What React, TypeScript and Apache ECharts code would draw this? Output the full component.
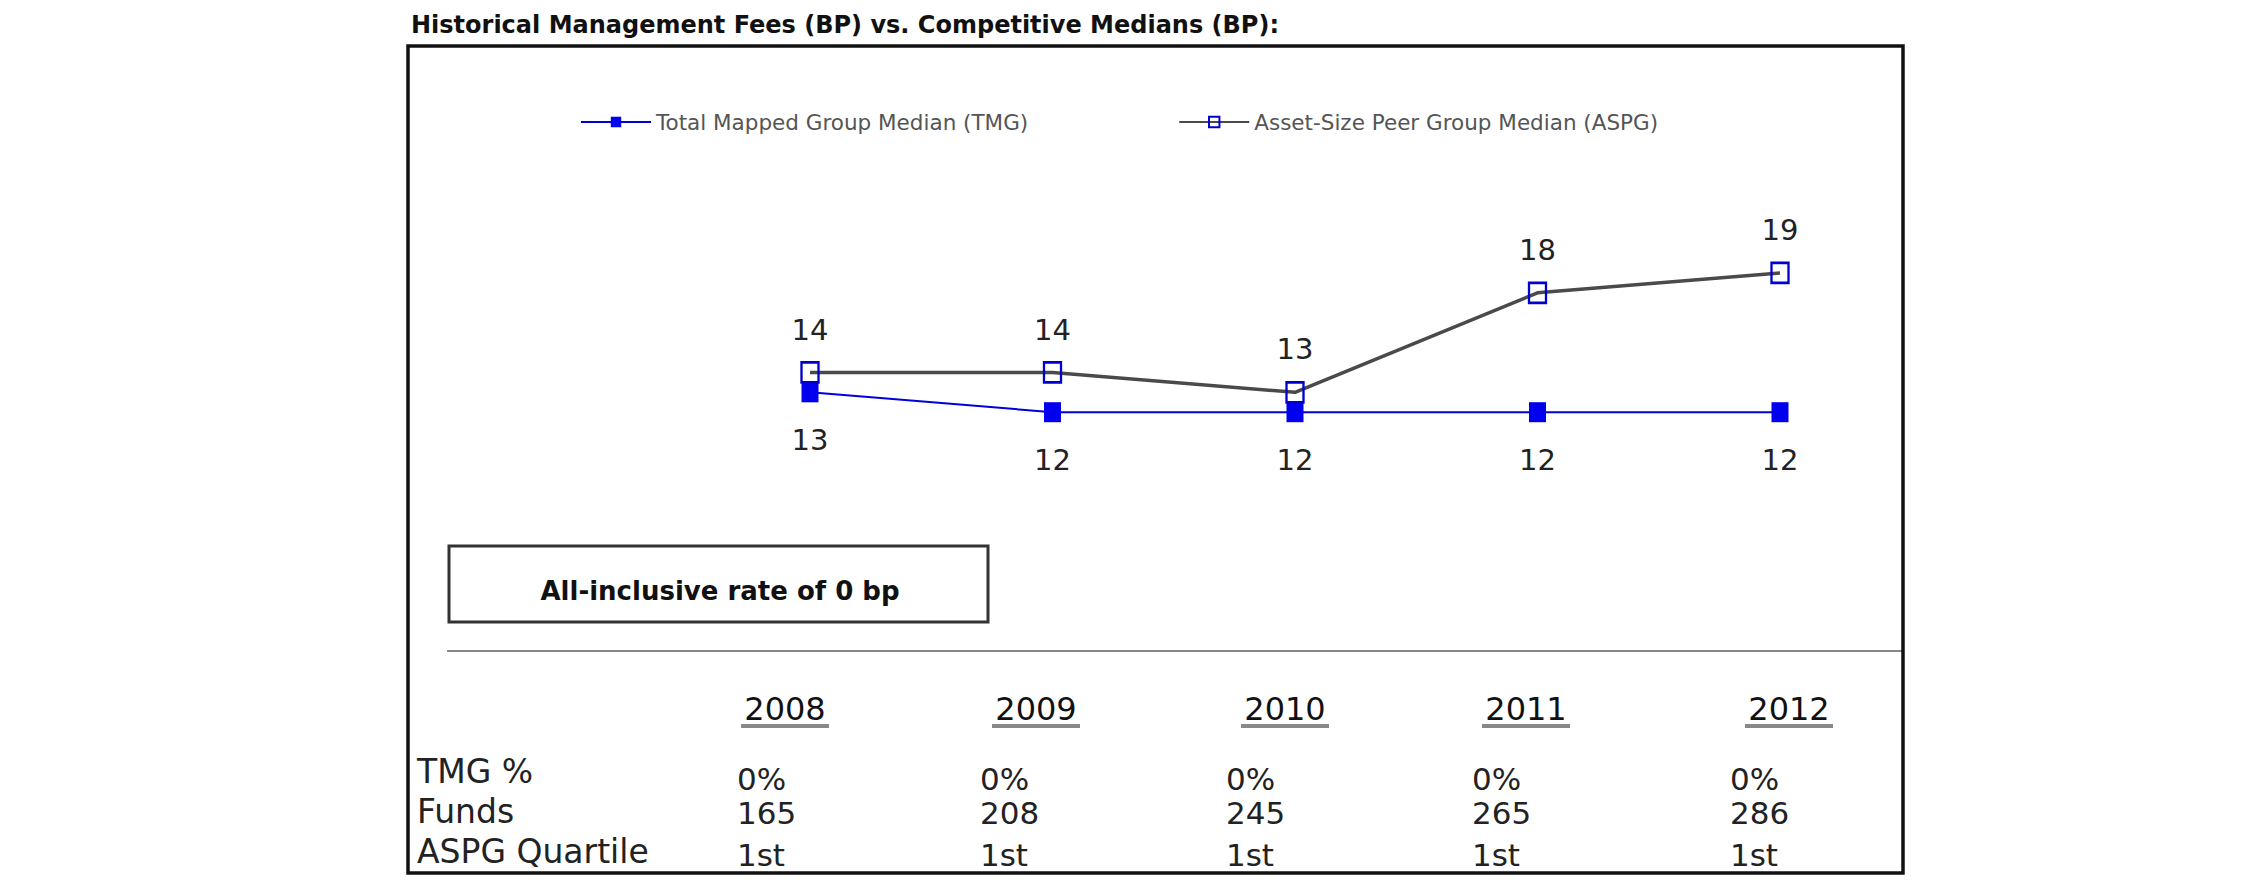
import React, { useEffect, useRef } from "react";
import * as echarts from "echarts";

const years = ["2008", "2009", "2010", "2011", "2012"];
const tmgMedian = [13, 12, 12, 12, 12];
const aspgMedian = [14, 14, 13, 18, 19];
const tmgPct = ["0%", "0%", "0%", "0%", "0%"];
const funds = ["165", "208", "245", "265", "286"];
const aspgQuartile = ["1st", "1st", "1st", "1st", "1st"];
const rowLabels = ["TMG %", "Funds", "ASPG Quartile"];
const titleText = "Historical Management Fees (BP) vs. Competitive Medians (BP):";
const rateText = "All-inclusive rate of 0 bp";
const seriesNames = ["Total Mapped Group Median (TMG)", "Asset-Size Peer Group Median (ASPG)"];

// layout (pixels)
const yearCenters = [785, 1036, 1285, 1526, 1789];
const valueLefts = [737, 980, 1226, 1472, 1730];
const rowLabelY = [771, 811, 851];
const rowValueY = [779, 813, 855];
const FONT = "DejaVu Sans, Verdana, sans-serif";

export default function App() {
  const ref = useRef<HTMLDivElement>(null);
  useEffect(() => {
    if (!ref.current) return;
    const chart = echarts.init(ref.current, null, { renderer: "svg" });
    const graphics: any[] = [];
    graphics.push({
      type: "rect",
      shape: { x: 408, y: 46, width: 1495, height: 827 },
      style: { fill: "none", stroke: "#111", lineWidth: 3.5 },
      z: 1,
    });
    graphics.push({
      type: "text",
      x: 411,
      y: 25,
      style: { text: titleText, font: `bold 24px ${FONT}`, fill: "#111", align: "left", verticalAlign: "middle" },
    });
    graphics.push({
      type: "rect",
      shape: { x: 449, y: 546, width: 539, height: 76 },
      style: { fill: "none", stroke: "#333", lineWidth: 3 },
    });
    graphics.push({
      type: "text",
      x: 720,
      y: 591,
      style: { text: rateText, font: `bold 26px ${FONT}`, fill: "#111", align: "center", verticalAlign: "middle" },
    });
    graphics.push({
      type: "line",
      shape: { x1: 447, y1: 651, x2: 1902, y2: 651 },
      style: { stroke: "#888", lineWidth: 2 },
    });
    years.forEach((yr, i) => {
      graphics.push({
        type: "text",
        x: yearCenters[i],
        y: 709,
        style: { text: yr, font: `32px ${FONT}`, fill: "#111", align: "center", verticalAlign: "middle" },
      });
      graphics.push({
        type: "rect",
        shape: { x: yearCenters[i] - 44, y: 724, width: 88, height: 4 },
        style: { fill: "#888" },
      });
    });
    rowLabels.forEach((lab, r) => {
      graphics.push({
        type: "text",
        x: 417,
        y: rowLabelY[r],
        style: { text: lab, font: `33px ${FONT}`, lineHeight: 32, fill: "#222", align: "left", verticalAlign: "middle" },
      });
    });
    const rows = [tmgPct, funds, aspgQuartile];
    rows.forEach((row, r) => {
      row.forEach((v, i) => {
        graphics.push({
          type: "text",
          x: valueLefts[i],
          y: rowValueY[r],
          style: { text: v, font: `31px ${FONT}`, lineHeight: 28, fill: "#222", align: "left", verticalAlign: "middle" },
        });
      });
    });

    chart.setOption({
      animation: false,
      backgroundColor: "#fff",
      legend: {
        left: 580,
        top: 111,
        padding: 0,
        itemWidth: 70,
        itemHeight: 13,
        itemGap: 150,
        textStyle: { fontSize: 21.5, color: "#555", fontFamily: FONT },
        data: seriesNames,
      },
      grid: { left: 810, right: 470, top: 253, bottom: 443 },
      xAxis: { type: "category", data: years, boundaryGap: false, show: false },
      yAxis: { type: "value", min: 10, max: 20, show: false },
      graphic: graphics,
      series: [
        {
          name: seriesNames[0],
          type: "line",
          data: tmgMedian,
          symbol: "rect",
          symbolSize: [17, 20],
          itemStyle: { color: "#0000EE" },
          lineStyle: { color: "#0000DD", width: 2 },
          label: { show: true, position: "bottom", distance: 23, fontSize: 29, color: "#222", fontFamily: FONT },
          z: 3,
        },
        {
          name: seriesNames[1],
          type: "line",
          data: aspgMedian,
          symbol: "rect",
          symbolSize: [17, 20],
          itemStyle: { color: "rgba(255,255,255,0)", borderColor: "#0000CC", borderWidth: 2.5 },
          lineStyle: { color: "#4a4a4a", width: 3.5 },
          label: { show: true, position: "top", distance: 17, fontSize: 29, color: "#222", fontFamily: FONT },
          z: 4,
        },
      ],
    });
    return () => chart.dispose();
  }, []);
  return <div ref={ref} style={{ position: "fixed", left: 0, top: 0, width: 2250, height: 895 }} />;
}
